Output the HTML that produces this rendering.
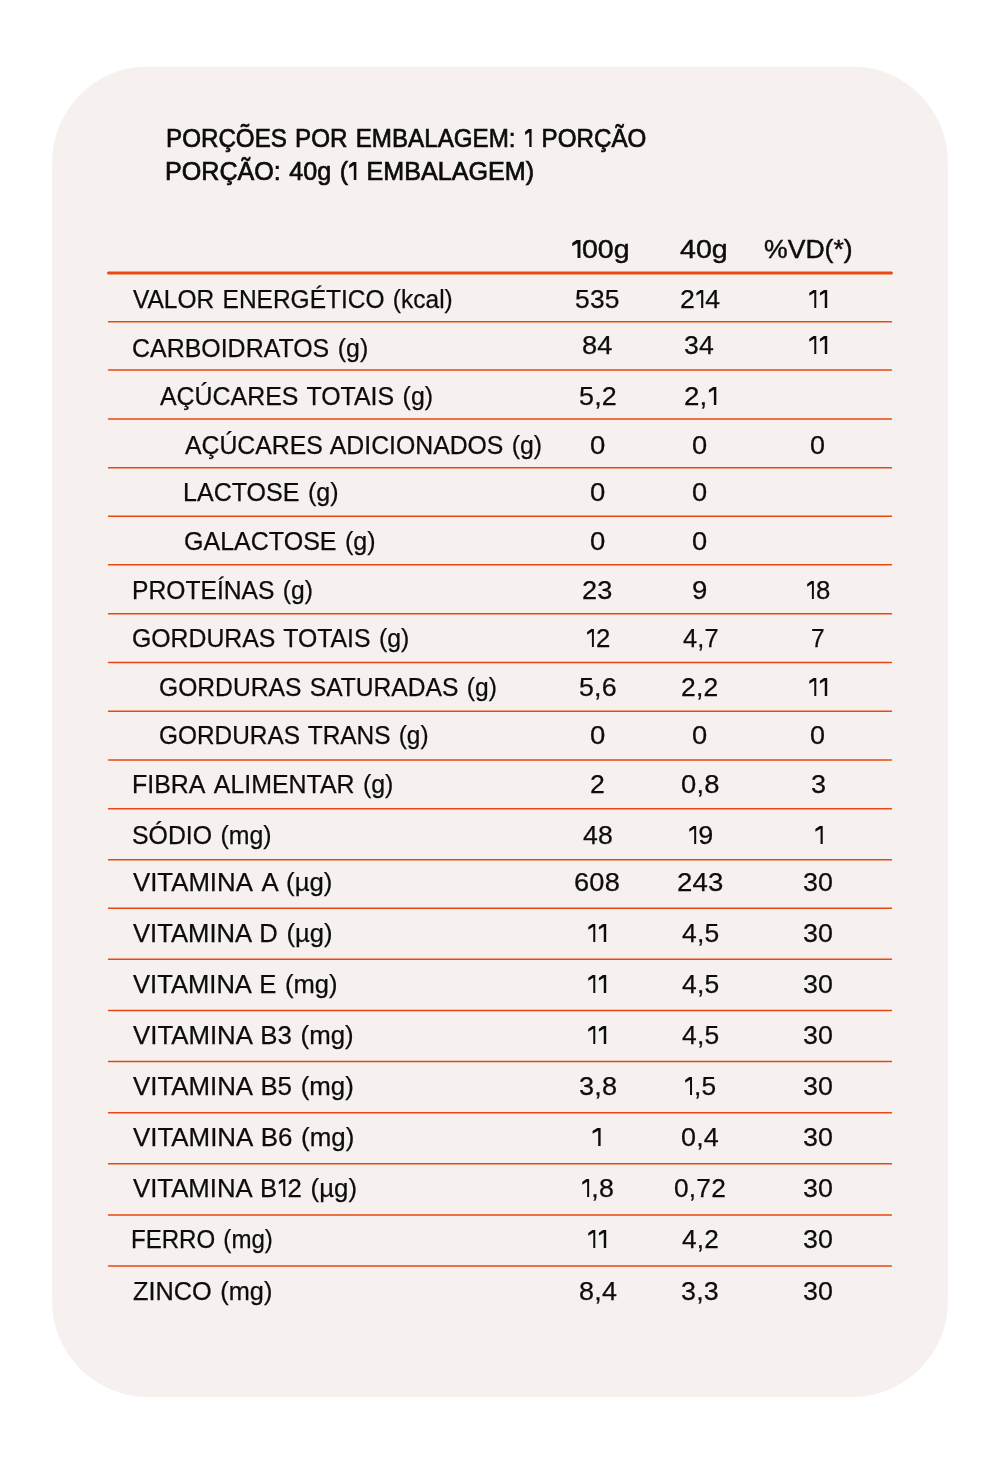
<!DOCTYPE html>
<html lang="pt-BR">
<head>
<meta charset="utf-8">
<title>Informação Nutricional</title>
<style>
html,body{margin:0;padding:0;background:#fff;}
body{width:1000px;height:1471px;position:relative;overflow:hidden;will-change:transform;font-family:"Liberation Sans",sans-serif;color:#0c0c0c;}
svg.rules{position:absolute;left:0;top:0;}
.t{position:absolute;white-space:nowrap;line-height:40px;height:40px;margin:0;transform-origin:0 50%;-webkit-text-stroke:0.25px #0c0c0c;}
.l{word-spacing:1.6px;}
.o{display:inline-block;position:relative;width:0.4em;color:transparent;-webkit-text-stroke:0;}
.o::before{content:"";position:absolute;left:0.045em;top:calc(20px - 0.3435em);width:0.279em;height:0.687em;background:#0c0c0c;clip-path:polygon(100% 0,56% 0,0 16.7%,0 31.8%,66.3% 15.5%,66.3% 100%,100% 100%);}
.v .o{width:0.385em;}.v .o::before{transform:scaleX(1);transform-origin:50% 50%;}
.m .o::before{left:0.04em;width:0.3em;clip-path:polygon(100% 0,52% 0,0 16%,0 34.5%,62.5% 18.5%,62.5% 100%,100% 100%);}
.m{-webkit-text-stroke-width:0.7px;}
.h{-webkit-text-stroke-width:0.45px;}
</style>
</head>
<body>
<svg class="rules" width="1000" height="1471" viewBox="0 0 1000 1471" fill="none" stroke="#e8490f" stroke-linecap="round">
<rect x="52" y="66.5" width="896" height="1330.5" rx="96" ry="96" fill="#f6f1ee" stroke="none"/>
<line x1="108.5" y1="272.9" x2="891.4" y2="272.9" stroke-width="3"/>
<line x1="108.5" y1="321.7" x2="891.4" y2="321.7" stroke-width="1.5"/>
<line x1="108.5" y1="370" x2="891.4" y2="370" stroke-width="1.5"/>
<line x1="108.5" y1="418.9" x2="891.4" y2="418.9" stroke-width="1.5"/>
<line x1="108.5" y1="467.7" x2="891.4" y2="467.7" stroke-width="1.5"/>
<line x1="108.5" y1="516.2" x2="891.4" y2="516.2" stroke-width="1.5"/>
<line x1="108.5" y1="564.8" x2="891.4" y2="564.8" stroke-width="1.5"/>
<line x1="108.5" y1="613.8" x2="891.4" y2="613.8" stroke-width="1.5"/>
<line x1="108.5" y1="662.5" x2="891.4" y2="662.5" stroke-width="1.5"/>
<line x1="108.5" y1="711.2" x2="891.4" y2="711.2" stroke-width="1.5"/>
<line x1="108.5" y1="760.1" x2="891.4" y2="760.1" stroke-width="1.5"/>
<line x1="108.5" y1="808.7" x2="891.4" y2="808.7" stroke-width="1.5"/>
<line x1="108.5" y1="859.7" x2="891.4" y2="859.7" stroke-width="1.5"/>
<line x1="108.5" y1="908.3" x2="891.4" y2="908.3" stroke-width="1.5"/>
<line x1="108.5" y1="959.3" x2="891.4" y2="959.3" stroke-width="1.5"/>
<line x1="108.5" y1="1010.5" x2="891.4" y2="1010.5" stroke-width="1.5"/>
<line x1="108.5" y1="1061.5" x2="891.4" y2="1061.5" stroke-width="1.5"/>
<line x1="108.5" y1="1112.7" x2="891.4" y2="1112.7" stroke-width="1.5"/>
<line x1="108.5" y1="1163.7" x2="891.4" y2="1163.7" stroke-width="1.5"/>
<line x1="108.5" y1="1214.9" x2="891.4" y2="1214.9" stroke-width="1.5"/>
<line x1="108.5" y1="1265.9" x2="891.4" y2="1265.9" stroke-width="1.5"/>
</svg>
<div class="t m l" style="left:165.67px;top:118px;font-size:26.2px;transform:scaleX(0.9232);">PORÇÕES POR EMBALAGEM: <span class="o">1</span> PORÇÃO</div>
<div class="t m l" style="left:165.22px;top:151px;font-size:26.2px;transform:scaleX(0.9588);">PORÇÃO: 40g (<span class="o">1</span> EMBALAGEM)</div>
<div class="t m h v" style="left:570.6px;top:229px;font-size:26.2px;transform:scaleX(1.0892);"><span class="o">1</span>00g</div>
<div class="t m h v" style="left:680.13px;top:229px;font-size:26.2px;transform:scaleX(1.0904);">40g</div>
<div class="t m h v" style="left:763.94px;top:229px;font-size:26.2px;transform:scaleX(1.0155);">%VD(*)</div>
<div class="t l" style="left:132.8px;top:279px;font-size:26.2px;transform:scaleX(0.9356);">VALOR ENERGÉTICO (kcal)</div>
<div class="t v" style="left:574.74px;top:279px;font-size:26.2px;letter-spacing:0.2px;transform:scaleX(1.0086);">535</div>
<div class="t v" style="left:679.59px;top:279px;font-size:26.2px;letter-spacing:0.2px;transform:scaleX(1.0179);">2<span class="o">1</span>4</div>
<div class="t v" style="left:808px;top:279px;font-size:26.2px;letter-spacing:0.2px;transform:scaleX(1.042);"><span class="o">1</span><span class="o">1</span></div>
<div class="t l" style="left:131.8px;top:328px;font-size:26.2px;transform:scaleX(0.9524);">CARBOIDRATOS (g)</div>
<div class="t v" style="left:581.8px;top:325px;font-size:26.2px;letter-spacing:0.2px;transform:scaleX(1.0395);">84</div>
<div class="t v" style="left:684.27px;top:325px;font-size:26.2px;letter-spacing:0.2px;transform:scaleX(1.017);">34</div>
<div class="t v" style="left:808px;top:325px;font-size:26.2px;letter-spacing:0.2px;transform:scaleX(1.042);"><span class="o">1</span><span class="o">1</span></div>
<div class="t l" style="left:160.13px;top:376px;font-size:26.2px;transform:scaleX(0.9515);">AÇÚCARES TOTAIS (g)</div>
<div class="t v" style="left:578.71px;top:376px;font-size:26.2px;letter-spacing:0.2px;transform:scaleX(1.0265);">5,2</div>
<div class="t v" style="left:684.2px;top:376px;font-size:26.2px;letter-spacing:0.2px;transform:scaleX(1.0576);">2,<span class="o">1</span></div>
<div class="t l" style="left:184.93px;top:425px;font-size:26.2px;transform:scaleX(0.9468);">AÇÚCARES ADICIONADOS (g)</div>
<div class="t v" style="left:589.89px;top:425px;font-size:26.2px;letter-spacing:0.2px;transform:scaleX(1.0498);">0</div>
<div class="t v" style="left:692.11px;top:425px;font-size:26.2px;letter-spacing:0.2px;transform:scaleX(1.0407);">0</div>
<div class="t v" style="left:810.25px;top:425px;font-size:26.2px;letter-spacing:0.2px;transform:scaleX(1.0289);">0</div>
<div class="t l" style="left:183.36px;top:472px;font-size:26.2px;transform:scaleX(0.9565);">LACTOSE (g)</div>
<div class="t v" style="left:589.89px;top:472px;font-size:26.2px;letter-spacing:0.2px;transform:scaleX(1.0498);">0</div>
<div class="t v" style="left:692.11px;top:472px;font-size:26.2px;letter-spacing:0.2px;transform:scaleX(1.0407);">0</div>
<div class="t l" style="left:183.8px;top:521px;font-size:26.2px;transform:scaleX(0.9558);">GALACTOSE (g)</div>
<div class="t v" style="left:589.89px;top:521px;font-size:26.2px;letter-spacing:0.2px;transform:scaleX(1.0498);">0</div>
<div class="t v" style="left:692.11px;top:521px;font-size:26.2px;letter-spacing:0.2px;transform:scaleX(1.0407);">0</div>
<div class="t l" style="left:131.98px;top:570px;font-size:26.2px;transform:scaleX(0.941);">PROTEÍNAS (g)</div>
<div class="t v" style="left:582.47px;top:570px;font-size:26.2px;letter-spacing:0.2px;transform:scaleX(1.0364);">23</div>
<div class="t v" style="left:692.4px;top:570px;font-size:26.2px;letter-spacing:0.2px;transform:scaleX(1.0519);">9</div>
<div class="t v" style="left:805.6px;top:570px;font-size:26.2px;letter-spacing:0.2px;transform:scaleX(0.9835);"><span class="o">1</span>8</div>
<div class="t l" style="left:131.8px;top:618px;font-size:26.2px;transform:scaleX(0.9468);">GORDURAS TOTAIS (g)</div>
<div class="t v" style="left:585.8px;top:618px;font-size:26.2px;letter-spacing:0.2px;transform:scaleX(0.9848);"><span class="o">1</span>2</div>
<div class="t v" style="left:682.83px;top:618px;font-size:26.2px;letter-spacing:0.2px;transform:scaleX(0.9679);">4,7</div>
<div class="t v" style="left:811.38px;top:618px;font-size:26.2px;letter-spacing:0.2px;transform:scaleX(0.9345);">7</div>
<div class="t l" style="left:159px;top:667px;font-size:26.2px;transform:scaleX(0.9407);">GORDURAS SATURADAS (g)</div>
<div class="t v" style="left:578.69px;top:667px;font-size:26.2px;letter-spacing:0.2px;transform:scaleX(1.0231);">5,6</div>
<div class="t v" style="left:681.19px;top:667px;font-size:26.2px;letter-spacing:0.2px;transform:scaleX(1.0099);">2,2</div>
<div class="t v" style="left:808px;top:667px;font-size:26.2px;letter-spacing:0.2px;transform:scaleX(1.042);"><span class="o">1</span><span class="o">1</span></div>
<div class="t l" style="left:159px;top:715px;font-size:26.2px;transform:scaleX(0.9315);">GORDURAS TRANS (g)</div>
<div class="t v" style="left:589.89px;top:715px;font-size:26.2px;letter-spacing:0.2px;transform:scaleX(1.0498);">0</div>
<div class="t v" style="left:692.11px;top:715px;font-size:26.2px;letter-spacing:0.2px;transform:scaleX(1.0407);">0</div>
<div class="t v" style="left:810.25px;top:715px;font-size:26.2px;letter-spacing:0.2px;transform:scaleX(1.0289);">0</div>
<div class="t l" style="left:131.84px;top:764px;font-size:26.2px;transform:scaleX(0.9512);">FIBRA&nbsp;ALIMENTAR (g)</div>
<div class="t v" style="left:590.19px;top:764px;font-size:26.2px;letter-spacing:0.2px;transform:scaleX(1.0167);">2</div>
<div class="t v" style="left:680.89px;top:764px;font-size:26.2px;letter-spacing:0.2px;transform:scaleX(1.0442);">0,8</div>
<div class="t v" style="left:811.11px;top:764px;font-size:26.2px;letter-spacing:0.2px;transform:scaleX(1.0311);">3</div>
<div class="t l" style="left:132px;top:815px;font-size:26.2px;transform:scaleX(0.9493);">SÓDIO (mg)</div>
<div class="t v" style="left:582.97px;top:815px;font-size:26.2px;letter-spacing:0.2px;transform:scaleX(1.0184);">48</div>
<div class="t v" style="left:687.6px;top:815px;font-size:26.2px;letter-spacing:0.2px;transform:scaleX(1.029);"><span class="o">1</span>9</div>
<div class="t v" style="left:813.6px;top:815px;font-size:26.2px;letter-spacing:0.2px;transform:scaleX(1.0904);"><span class="o">1</span></div>
<div class="t l" style="left:133px;top:862px;font-size:26.2px;transform:scaleX(0.9844);">VITAMINA&nbsp;A (µg)</div>
<div class="t v" style="left:574.16px;top:862px;font-size:26.2px;letter-spacing:0.2px;transform:scaleX(1.0387);">608</div>
<div class="t v" style="left:677.2px;top:862px;font-size:26.2px;letter-spacing:0.2px;transform:scaleX(1.0528);">243</div>
<div class="t v" style="left:803.27px;top:862px;font-size:26.2px;letter-spacing:0.2px;transform:scaleX(1.0233);">30</div>
<div class="t l" style="left:133px;top:913px;font-size:26.2px;transform:scaleX(0.9783);">VITAMINA D (µg)</div>
<div class="t v" style="left:587.4px;top:913px;font-size:26.2px;letter-spacing:0.2px;transform:scaleX(1.042);"><span class="o">1</span><span class="o">1</span></div>
<div class="t v" style="left:682px;top:913px;font-size:26.2px;letter-spacing:0.2px;transform:scaleX(1.0102);">4,5</div>
<div class="t v" style="left:803.27px;top:913px;font-size:26.2px;letter-spacing:0.2px;transform:scaleX(1.0233);">30</div>
<div class="t l" style="left:133px;top:964px;font-size:26.2px;transform:scaleX(0.977);">VITAMINA E (mg)</div>
<div class="t v" style="left:587.4px;top:964px;font-size:26.2px;letter-spacing:0.2px;transform:scaleX(1.042);"><span class="o">1</span><span class="o">1</span></div>
<div class="t v" style="left:682px;top:964px;font-size:26.2px;letter-spacing:0.2px;transform:scaleX(1.0102);">4,5</div>
<div class="t v" style="left:803.27px;top:964px;font-size:26.2px;letter-spacing:0.2px;transform:scaleX(1.0233);">30</div>
<div class="t l" style="left:133px;top:1015px;font-size:26.2px;transform:scaleX(0.9854);">VITAMINA B3 (mg)</div>
<div class="t v" style="left:587.4px;top:1015px;font-size:26.2px;letter-spacing:0.2px;transform:scaleX(1.042);"><span class="o">1</span><span class="o">1</span></div>
<div class="t v" style="left:682px;top:1015px;font-size:26.2px;letter-spacing:0.2px;transform:scaleX(1.0102);">4,5</div>
<div class="t v" style="left:803.27px;top:1015px;font-size:26.2px;letter-spacing:0.2px;transform:scaleX(1.0233);">30</div>
<div class="t l" style="left:133px;top:1066px;font-size:26.2px;transform:scaleX(0.9863);">VITAMINA B5 (mg)</div>
<div class="t v" style="left:578.73px;top:1066px;font-size:26.2px;letter-spacing:0.2px;transform:scaleX(1.0364);">3,8</div>
<div class="t v" style="left:684.2px;top:1066px;font-size:26.2px;letter-spacing:0.2px;transform:scaleX(1.0039);"><span class="o">1</span>,5</div>
<div class="t v" style="left:803.27px;top:1066px;font-size:26.2px;letter-spacing:0.2px;transform:scaleX(1.0233);">30</div>
<div class="t l" style="left:133px;top:1117px;font-size:26.2px;transform:scaleX(0.9884);">VITAMINA B6 (mg)</div>
<div class="t v" style="left:591.31px;top:1117px;font-size:26.2px;letter-spacing:0.2px;transform:scaleX(1.2);"><span class="o">1</span></div>
<div class="t v" style="left:680.94px;top:1117px;font-size:26.2px;letter-spacing:0.2px;transform:scaleX(1.0283);">0,4</div>
<div class="t v" style="left:803.27px;top:1117px;font-size:26.2px;letter-spacing:0.2px;transform:scaleX(1.0233);">30</div>
<div class="t l" style="left:133px;top:1168px;font-size:26.2px;transform:scaleX(0.9838);">VITAMINA B<span class="o">1</span>2 (µg)</div>
<div class="t v" style="left:581.2px;top:1168px;font-size:26.2px;letter-spacing:0.2px;transform:scaleX(1.0231);"><span class="o">1</span>,8</div>
<div class="t v" style="left:674.48px;top:1168px;font-size:26.2px;letter-spacing:0.2px;transform:scaleX(1.0037);">0,72</div>
<div class="t v" style="left:803.27px;top:1168px;font-size:26.2px;letter-spacing:0.2px;transform:scaleX(1.0233);">30</div>
<div class="t l" style="left:131.37px;top:1219px;font-size:26.2px;transform:scaleX(0.9188);">FERRO (mg)</div>
<div class="t v" style="left:587.4px;top:1219px;font-size:26.2px;letter-spacing:0.2px;transform:scaleX(1.042);"><span class="o">1</span><span class="o">1</span></div>
<div class="t v" style="left:682px;top:1219px;font-size:26.2px;letter-spacing:0.2px;transform:scaleX(0.9979);">4,2</div>
<div class="t v" style="left:803.27px;top:1219px;font-size:26.2px;letter-spacing:0.2px;transform:scaleX(1.0233);">30</div>
<div class="t l" style="left:132.82px;top:1271px;font-size:26.2px;transform:scaleX(0.9668);">ZINCO (mg)</div>
<div class="t v" style="left:578.8px;top:1271px;font-size:26.2px;letter-spacing:0.2px;transform:scaleX(1.03);">8,4</div>
<div class="t v" style="left:681.07px;top:1271px;font-size:26.2px;letter-spacing:0.2px;transform:scaleX(1.0266);">3,3</div>
<div class="t v" style="left:803.27px;top:1271px;font-size:26.2px;letter-spacing:0.2px;transform:scaleX(1.0233);">30</div>
</body>
</html>
